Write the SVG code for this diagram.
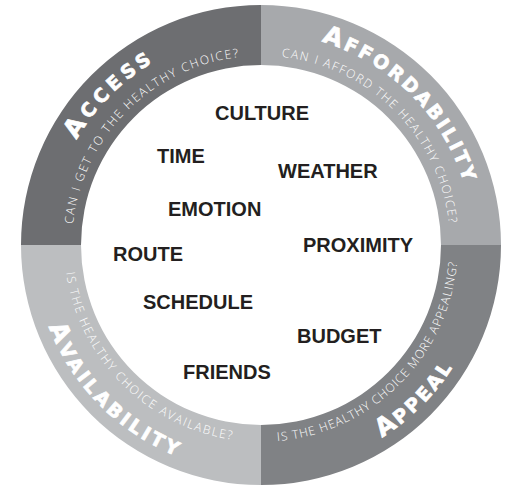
<svg xmlns="http://www.w3.org/2000/svg" xmlns:xlink="http://www.w3.org/1999/xlink" width="510" height="485" viewBox="0 0 510 485">
<style>
.title{font-family:"DejaVu Sans","Liberation Sans",sans-serif;font-weight:bold;font-size:19px;fill:#ffffff;stroke:#ffffff;stroke-width:0.7px}
.big{font-size:25px}
.sub{font-family:"Open Sans","Lato","Liberation Sans",sans-serif;font-weight:300;font-size:12px;fill:#ffffff}
.word{font-family:"Liberation Sans","Arial",sans-serif;font-weight:bold;font-size:20px;fill:#231f20}
</style>
<defs>
<path id="pAccSub" d="M116.2,366.5 A189,189 0 0 1 382.5,100.2"/>
<path id="pAccTit" d="M98.6,381.3 A212,212 0 0 1 397.3,82.6"/>
<path id="pAffSub" d="M139.5,100.2 A189,189 0 0 1 405.8,366.5"/>
<path id="pAffTit" d="M124.7,82.6 A212,212 0 0 1 423.4,381.3"/>
<path id="pAvaSub" d="M110.1,118.4 A197,197 0 0 0 387.6,395.9"/>
<path id="pAvaTit" d="M87.1,99.0 A227,227 0 0 0 406.9,418.9"/>
<path id="pAppSub" d="M134.4,395.9 A197,197 0 0 0 411.9,118.4"/>
<path id="pAppTit" d="M115.1,418.9 A227,227 0 0 0 434.9,99.0"/>
</defs>
<rect width="510" height="485" fill="#ffffff"/>
<g id="access">
<path d="M21,245 A240,240 0 0 1 261,5 L261,65 A180,180 0 0 0 81,245 Z" fill="#6d6e71"/>
<text class="title" letter-spacing="4.5" text-anchor="middle"><textPath xlink:href="#pAccTit" startOffset="50%"><tspan class="big">A</tspan>CCESS</textPath></text>
<text class="sub" letter-spacing="1.7" text-anchor="middle"><textPath xlink:href="#pAccSub" startOffset="50%">CAN I GET TO THE HEALTHY CHOICE?</textPath></text>
</g>
<g id="affordability">
<path d="M261,5 A240,240 0 0 1 501,245 L441,245 A180,180 0 0 0 261,65 Z" fill="#a7a9ac"/>
<text class="title" letter-spacing="2.8" text-anchor="middle"><textPath xlink:href="#pAffTit" startOffset="50%"><tspan class="big">A</tspan>FFORDABILITY</textPath></text>
<text class="sub" letter-spacing="1.6" text-anchor="middle"><textPath xlink:href="#pAffSub" startOffset="50%">CAN I AFFORD THE HEALTHY CHOICE?</textPath></text>
</g>
<g id="appeal">
<path d="M501,245 A240,240 0 0 1 261,485 L261,425 A180,180 0 0 0 441,245 Z" fill="#808285"/>
<text class="title" letter-spacing="2.6" text-anchor="middle"><textPath xlink:href="#pAppTit" startOffset="50%"><tspan class="big">A</tspan>PPEAL</textPath></text>
<text class="sub" letter-spacing="1.0" text-anchor="middle"><textPath xlink:href="#pAppSub" startOffset="50%">IS THE HEALTHY CHOICE MORE APPEALING?</textPath></text>
</g>
<g id="availability">
<path d="M261,485 A240,240 0 0 1 21,245 L81,245 A180,180 0 0 0 261,425 Z" fill="#bcbec0"/>
<text class="title" letter-spacing="3.4" text-anchor="middle"><textPath xlink:href="#pAvaTit" startOffset="50%"><tspan class="big">A</tspan>VAILABILITY</textPath></text>
<text class="sub" letter-spacing="1.7" text-anchor="middle"><textPath xlink:href="#pAvaSub" startOffset="50%">IS THE HEALTHY CHOICE AVAILABLE?</textPath></text>
</g>
<g id="words">
<text class="word" x="215" y="120">CULTURE</text>
<text class="word" x="157" y="163">TIME</text>
<text class="word" x="278" y="178">WEATHER</text>
<text class="word" x="168" y="216">EMOTION</text>
<text class="word" x="303" y="252">PROXIMITY</text>
<text class="word" x="113" y="261">ROUTE</text>
<text class="word" x="143" y="309">SCHEDULE</text>
<text class="word" x="297" y="343">BUDGET</text>
<text class="word" x="183" y="379">FRIENDS</text>
</g>
</svg>
